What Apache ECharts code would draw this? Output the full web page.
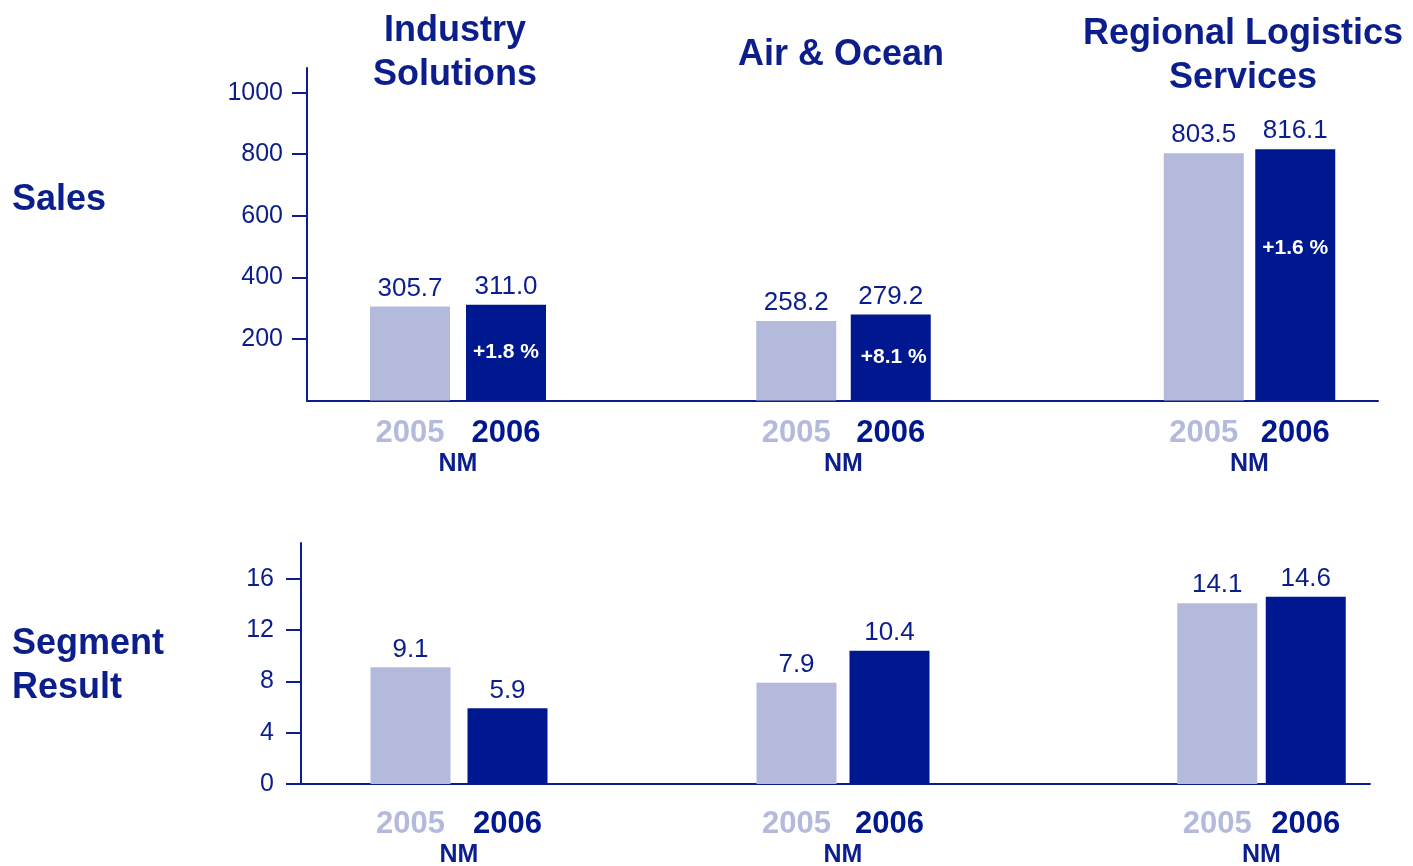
<!DOCTYPE html>
<html>
<head>
<meta charset="utf-8">
<title>Sales and Segment Result</title>
<script src="https://cdn.jsdelivr.net/npm/echarts@6/dist/echarts.min.js"></script>
<style>
  html, body { margin: 0; padding: 0; background: #fff; }
  #chart { width: 1413px; height: 866px; }
</style>
</head>
<body>
<div id="chart"></div>
<script>
var groups = ['Industry\nSolutions', 'Air & Ocean', 'Regional Logistics\nServices'];
var rowNames = ['Sales', 'Segment\nResult'];
var years = ['2005', '2006'];
var unit = 'NM';
var sales2005 = [305.7, 258.2, 803.5];
var sales2006 = [311.0, 279.2, 816.1];
var salesGrowth = ['+1.8 %', '+8.1 %', '+1.6 %'];
var result2005 = [9.1, 7.9, 14.1];
var result2006 = [5.9, 10.4, 14.6];
var salesTicks = [200, 400, 600, 800, 1000];
var resultTicks = [0, 4, 8, 12, 16];

var navy = '#0b1e8c';
var dark = '#00188f';
var light = '#b3badc';
var font = '"Liberation Sans", Arial, sans-serif';

// layout of the two panels (pixels)
var rows = [
  {
    top: 68, height: 332.5, left: 307, width: 1071, max: 1080,
    ticks: salesTicks, labelMargin: 24, a: sales2005, b: sales2006, growth: salesGrowth,
    boxes: [[362, 192], [749, 189], [1158, 183]], yearMargin: 17, nameGap: 51
  },
  {
    top: 543, height: 241, left: 301, width: 1069, max: 18.8,
    ticks: resultTicks, labelMargin: 27, a: result2005, b: result2006, growth: null,
    boxes: [[362, 194], [750, 186], [1173, 177]], yearMargin: 25, nameGap: 59
  }
];
var growthOffset = [[0, 0], [3, 0], [0, -27]];

var grid = [], xAxis = [], yAxis = [], series = [];

rows.forEach(function(r) {
  var gi = grid.length;
  grid.push({ left: r.left, top: r.top, width: r.width, height: r.height, outerBoundsMode: 'none' });
  xAxis.push({
    type: 'value', gridIndex: gi, min: 0, max: 1,
    axisLine: { show: true, lineStyle: { color: navy, width: 2 } },
    axisTick: { show: false }, axisLabel: { show: false }, splitLine: { show: false }
  });
  yAxis.push({
    type: 'value', gridIndex: gi, min: 0, max: r.max,
    axisLine: { show: true, lineStyle: { color: navy, width: 2 } },
    axisTick: { show: true, length: 15, customValues: r.ticks, lineStyle: { color: navy, width: 2 } },
    axisLabel: {
      customValues: r.ticks, margin: r.labelMargin, fontSize: 25, color: navy, fontFamily: font,
      formatter: function(v) { return String(v); }
    },
    splitLine: { show: false }
  });

  r.boxes.forEach(function(box, k) {
    var g = grid.length;
    grid.push({ left: box[0], width: box[1], top: r.top, height: r.height, outerBoundsMode: 'none' });
    xAxis.push({
      type: 'category', gridIndex: g, data: years,
      axisLine: { show: false }, axisTick: { show: false },
      axisLabel: {
        interval: 0, margin: r.yearMargin, fontSize: 31, fontWeight: 'bold', fontFamily: font,
        color: function(v, i) { return i === 0 ? light : dark; }
      },
      name: unit, nameLocation: 'middle', nameGap: r.nameGap,
      nameTextStyle: { fontSize: 25, fontWeight: 'bold', color: navy, fontFamily: font }
    });
    yAxis.push({ type: 'value', gridIndex: g, min: 0, max: r.max, show: false });
    series.push({
      type: 'bar', xAxisIndex: g, yAxisIndex: g, barWidth: 80, barGap: '-100%',
      data: [
        { value: r.a[k], itemStyle: { color: light } },
        { value: r.b[k], itemStyle: { color: dark } }
      ],
      label: {
        show: true, position: 'top', distance: 5, fontSize: 26, color: navy, fontFamily: font,
        formatter: function(p) { return p.value.toFixed(1); }
      }
    });
    if (r.growth) {
      series.push({
        type: 'bar', xAxisIndex: g, yAxisIndex: g, barWidth: 80, barGap: '-100%', silent: true,
        itemStyle: { color: 'rgba(0,0,0,0)' },
        data: ['-', r.b[k]],
        label: {
          show: true, position: 'inside', offset: growthOffset[k],
          fontSize: 21, fontWeight: 'bold', color: '#fff', fontFamily: font,
          formatter: r.growth[k]
        }
      });
    }
  });
});

var headStyle = { fontSize: 36, fontWeight: 'bold', color: navy, fontFamily: font, lineHeight: 44 };
var title = [
  { text: groups[0], left: 455, top: 9, padding: 0, textAlign: 'center', textStyle: headStyle },
  { text: groups[1], left: 841, top: 33, padding: 0, textAlign: 'center', textStyle: headStyle },
  { text: groups[2], left: 1243, top: 12, padding: 0, textAlign: 'center', textStyle: headStyle },
  { text: rowNames[0], left: 12, top: 180, padding: 0,
    textStyle: { fontSize: 36, fontWeight: 'bold', color: navy, fontFamily: font, lineHeight: 41 } },
  { text: rowNames[1], left: 12, top: 622, padding: 0,
    textStyle: { fontSize: 36, fontWeight: 'bold', color: navy, fontFamily: font, lineHeight: 44 } }
];

var chart = echarts.init(document.getElementById('chart'));
chart.setOption({
  animation: false,
  title: title,
  grid: grid,
  xAxis: xAxis,
  yAxis: yAxis,
  series: series
});
</script>
</body>
</html>
